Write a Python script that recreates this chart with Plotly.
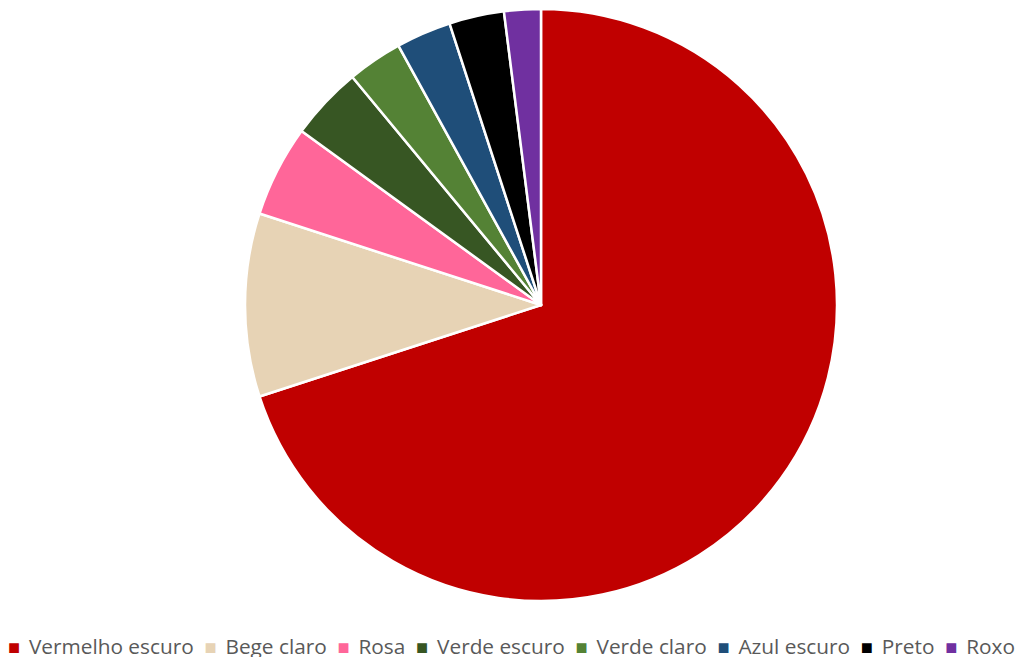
import plotly.graph_objects as go

labels = ["Vermelho escuro", "Bege claro", "Rosa", "Verde escuro",
          "Verde claro", "Azul escuro", "Preto", "Roxo"]
values = [70, 10, 5, 4, 3, 3, 3, 2]
colors = ["#C00000", "#E7D3B5", "#FF6699", "#375623",
          "#548235", "#1F4E79", "#000000", "#7030A0"]

W, H = 1018, 657

fig = go.Figure(go.Pie(
    labels=labels, values=values, sort=False, direction="clockwise",
    rotation=0, textinfo="none", hoverinfo="label+percent",
    marker=dict(colors=colors, line=dict(color="white", width=2.5)),
    domain=dict(x=[245 / W, 837 / W], y=[56 / H, 648 / H]),
    showlegend=False,
))

parts = []
for lab, col in zip(labels, colors):
    parts.append(f'<span style="color:{col};font-size:20px">■</span> \u2009{lab}')
legend_text = "  ".join(parts)

fig.add_annotation(
    x=511 / W, y=11 / H, xref="paper", yref="paper",
    xanchor="center", yanchor="middle", showarrow=False,
    text=legend_text,
    font=dict(family="Open Sans, Liberation Sans, sans-serif", size=20.8, color="#595959"),
)

fig.update_layout(
    width=W, height=H,
    margin=dict(l=0, r=0, t=0, b=0),
    paper_bgcolor="white", plot_bgcolor="white",
)

fig.write_html("out.html", config={"displayModeBar": False},
               post_script="document.body.style.margin='0';document.body.style.overflow='hidden';")
